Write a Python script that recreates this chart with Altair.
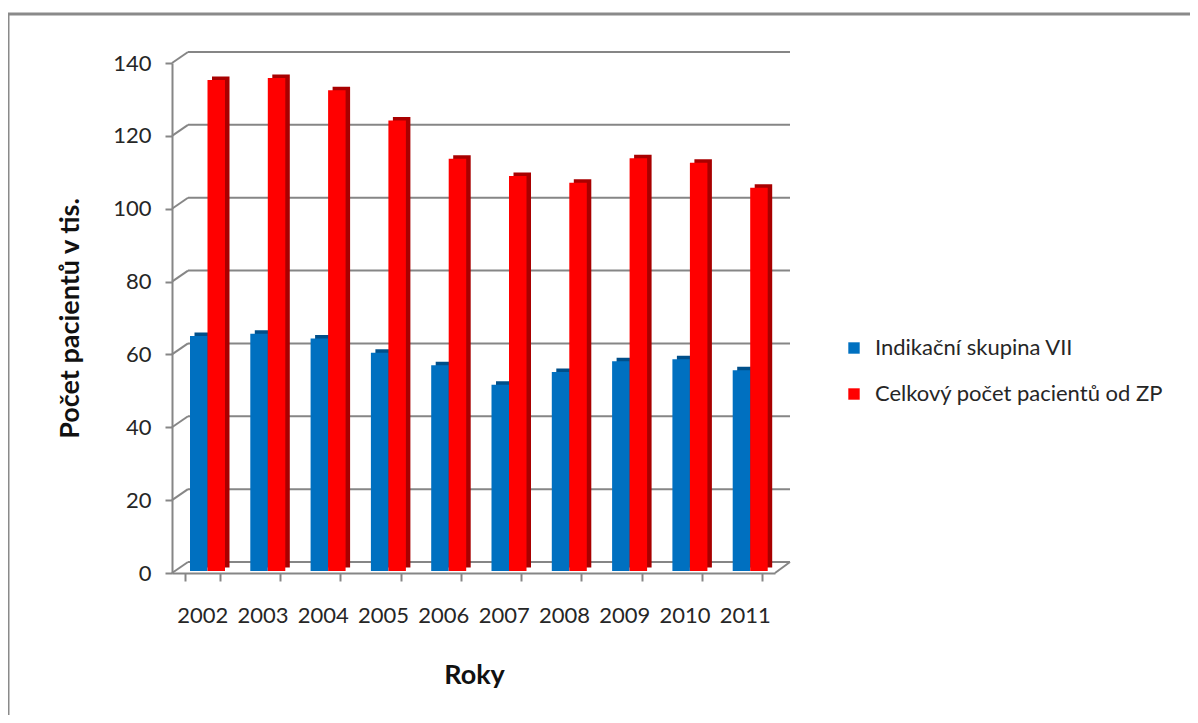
import altair as alt
import pandas as pd

years = ["2002", "2003", "2004", "2005", "2006", "2007", "2008", "2009", "2010", "2011"]
series_names = ["Indikační skupina VII", "Celkový počet pacientů od ZP"]
blue_values = [64.5, 65.1, 63.8, 59.9, 56.5, 51.1, 54.6, 57.6, 58.1, 55.1]
red_values = [134.8, 135.3, 132.0, 123.7, 113.2, 108.4, 106.6, 113.3, 112.1, 105.2]
grid_values = [0, 20, 40, 60, 80, 100, 120, 140]
front_colors = ["#0070c0", "#ff0000"]
shadow_colors = ["#004f8a", "#a80000"]

rows = []
for y, b, r in zip(years, blue_values, red_values):
    rows.append({"year": y, "series": series_names[0], "value": b})
    rows.append({"year": y, "series": series_names[1], "value": r})
df = pd.DataFrame(rows)
grid_df = pd.DataFrame({"v": grid_values})

FONT = "Lato"
GRAY = "#868686"
W, H = 603, 510
BAR_W = 17.5

x_enc = alt.X("year:N", sort=years,
              scale=alt.Scale(paddingInner=0.42, paddingOuter=0.21),
              axis=alt.Axis(title="Roky", labelAngle=0, labelFontSize=22, labelFont=FONT,
                            labelColor="#262626", labelPadding=24,
                            domainColor=GRAY, domainWidth=2, tickColor=GRAY, tickWidth=2,
                            tickSize=8, tickBand="extent",
                            titleFont=FONT, titleFontSize=27, titleFontWeight="bold",
                            titleColor="#111111", titleX=302, titleY=102,
                            titleAlign="center", titleBaseline="middle"))
y_enc = alt.Y("value:Q", scale=alt.Scale(domain=[0, 140]),
              axis=alt.Axis(title="Počet pacientů v tis.", values=grid_values, grid=False,
                            labelFontSize=22, labelFont=FONT, labelColor="#262626",
                            labelPadding=14, domainColor=GRAY, domainWidth=2,
                            tickColor=GRAY, tickWidth=2, tickSize=7,
                            titleFont=FONT, titleFontSize=27, titleFontWeight="bold",
                            titleColor="#111111", titleX=-102, titleY=255,
                            titleAngle=270, titleAlign="center", titleBaseline="middle"))
color_enc = alt.Color("series:N", sort=series_names,
                      scale=alt.Scale(domain=series_names, range=front_colors),
                      legend=alt.Legend(title=None, orient="none", legendX=671, legendY=274,
                                        symbolType="square", symbolSize=130,
                                        symbolStrokeWidth=0, labelFont=FONT,
                                        labelFontSize=22, labelColor="#262626",
                                        labelLimit=0, rowPadding=24, labelOffset=10))

frame = alt.Chart(alt.Data(values=[{"a": 1}])).mark_rect(
    filled=False, stroke="#8a8a8a", strokeWidth=3
).encode(x=alt.value(-164), x2=alt.value(1200), y=alt.value(-49), y2=alt.value(900))

grid = alt.Chart(grid_df).mark_rule(color=GRAY, strokeWidth=2, yOffset=-11).encode(
    y=alt.Y("v:Q", scale=alt.Scale(domain=[0, 140])),
    x=alt.value(16), x2=alt.value(618))

conn = alt.Chart(grid_df).mark_rule(color=GRAY, strokeWidth=2, y2Offset=-11).encode(
    y=alt.Y("v:Q", scale=alt.Scale(domain=[0, 140])), y2="v:Q",
    x=alt.value(0), x2=alt.value(16))

floor_right = alt.Chart(pd.DataFrame({"v": [0]})).mark_rule(
    color=GRAY, strokeWidth=2, y2Offset=-11).encode(
    y=alt.Y("v:Q", scale=alt.Scale(domain=[0, 140])), y2="v:Q",
    x=alt.value(W), x2=alt.value(618))

# offsets of each series' front face from the category centre (px)
front_dx = [-3.4, 14.1]
layers = [frame, grid, conn, floor_right]
for i, name in enumerate(series_names):
    layers.append(
        alt.Chart(df).transform_filter(alt.datum.series == name).mark_bar(
            width=BAR_W, xOffset=front_dx[i] + 4.5, yOffset=-5.5, y2Offset=-5.5,
            color=shadow_colors[i]
        ).encode(x=x_enc, y=y_enc)
    )
for i, name in enumerate(series_names):
    layers.append(
        alt.Chart(df).transform_filter(alt.datum.series == name).mark_bar(
            width=BAR_W, xOffset=front_dx[i], yOffset=-2, y2Offset=-2
        ).encode(x=x_enc, y=y_enc, color=color_enc)
    )

chart = alt.layer(*layers).properties(
    width=W, height=H,
    autosize=alt.AutoSizeParams(type="none"),
    padding={"left": 164, "top": 55, "right": 415, "bottom": 142},
    background="white"
).configure_view(stroke=None)

chart.save("out.html", embed_options={"renderer": "svg", "actions": False})
